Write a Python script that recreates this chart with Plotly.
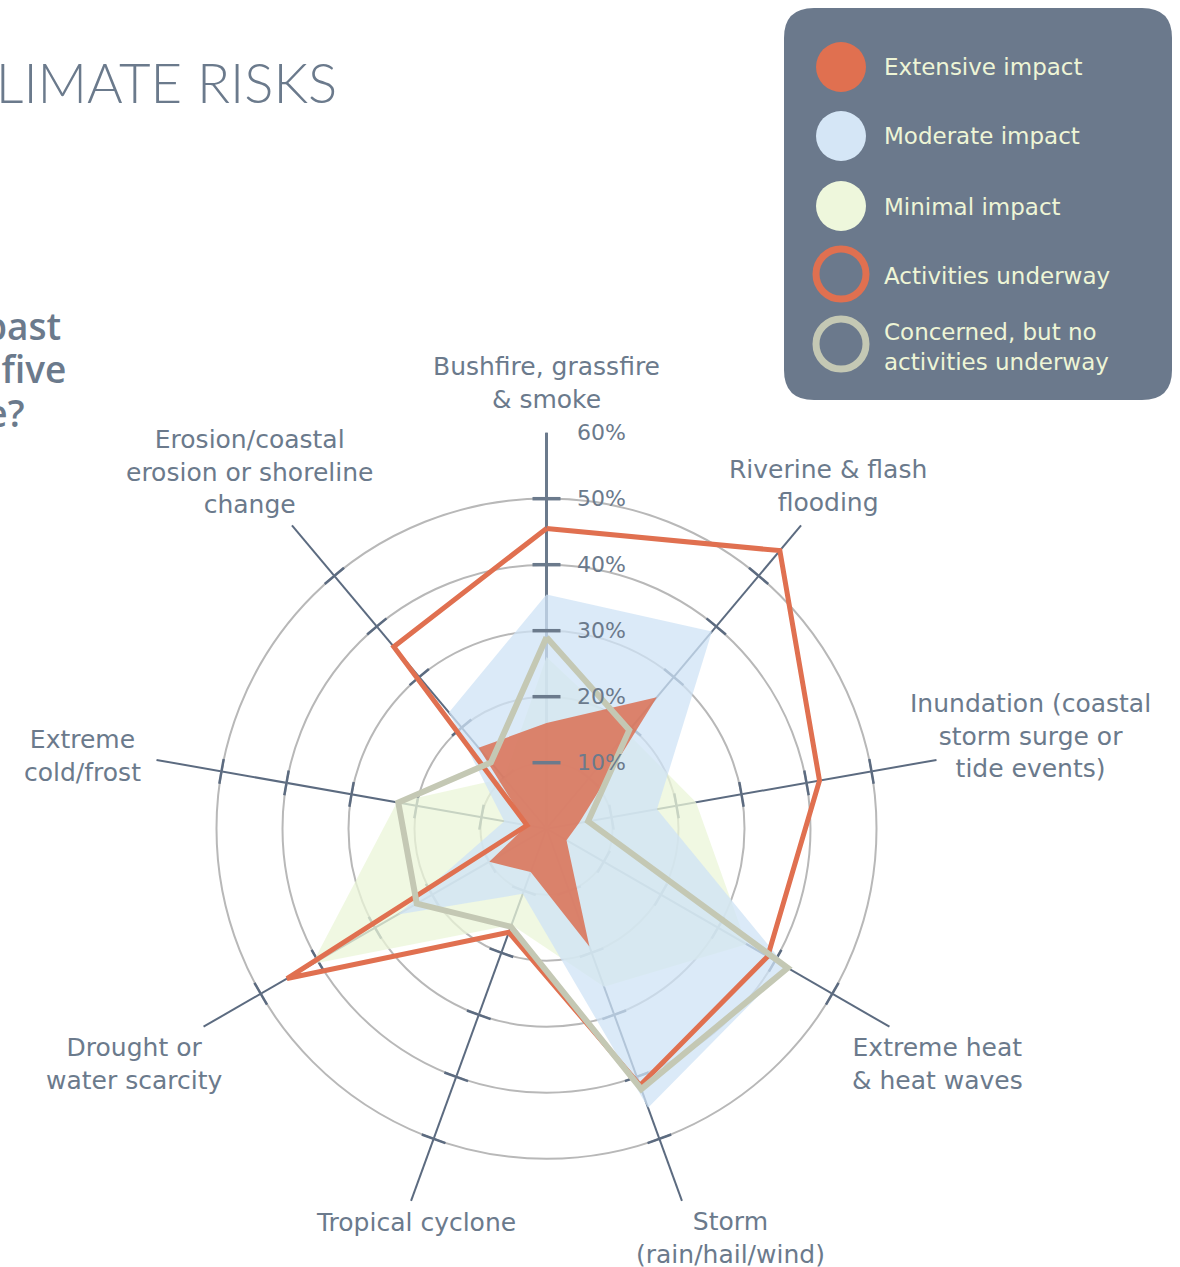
import plotly.graph_objects as go

# ---------------- data ----------------
categories = [
    "Bushfire, grassfire & smoke",
    "Riverine & flash flooding",
    "Inundation (coastal storm surge or tide events)",
    "Extreme heat & heat waves",
    "Storm (rain/hail/wind)",
    "Tropical cyclone",
    "Drought or water scarcity",
    "Extreme cold/frost",
    "Erosion/coastal erosion or shoreline change",
]
category_labels = [
    "Bushfire, grassfire<br>& smoke",
    "Riverine & flash<br>flooding",
    "Inundation (coastal<br>storm surge or<br>tide events)",
    "Extreme heat<br>& heat waves",
    "Storm<br>(rain/hail/wind)",
    "Tropical cyclone",
    "Drought or<br>water scarcity",
    "Extreme<br>cold/frost",
    "Erosion/coastal<br>erosion or shoreline<br>change",
]
extensive_impact = [16, 26, 5, 3.5, 19, 7, 10, 3, 16]
moderate_impact = [35.5, 39, 17, 42, 45, 10.5, 26, 6.5, 23]
minimal_impact = [26, 19, 23, 35, 25.5, 15.5, 41, 23, 10]
activities_underway = [45.5, 55, 42, 38.7, 41.4, 16.7, 45.4, 3, 36]
concerned_no_activities = [29, 19.5, 6.4, 42.2, 42, 15.8, 22.7, 22.8, 13.1]
grid_values = [10, 20, 30, 40, 50]
tick_values = [10, 20, 30, 40, 50, 60]
tick_labels = ["10%", "20%", "30%", "40%", "50%", "60%"]
legend_labels = ["Extensive impact", "Moderate impact", "Minimal impact",
                 "Activities underway", "Concerned, but no<br>activities underway"]

# ---------------- layout constants ----------------
W, H = 1180, 1267
CX, CY = 546.5, 828.7       # polar centre in pixels
R_MAX = 60
R_PX = 396                  # pixel radius of R_MAX
PPU = R_PX / R_MAX

TEXT = "#6b7a8c"
SPOKE = "#5c6b80"
RED = "#e07050"
GREYLINE = "#c4c8b4"
LEG_BG = "#6b798c"
LEG_TXT = "#eef5d6"
FONT = "DejaVu Sans"


def px(x):
    return x / W


def py(y):
    return 1 - y / H


def closed(v):
    return list(v) + [v[0]]


theta_c = closed(categories)
fig = go.Figure()

# spoke ticks (under fills) for all spokes except the radial-axis spoke
tk_theta, tk_r, tk_ang = [], [], []
for i, c in enumerate(categories[1:], start=1):
    for g in grid_values:
        tk_theta.append(c)
        tk_r.append(g)
        tk_ang.append(i * 360 / len(categories))
fig.add_trace(go.Scatterpolar(
    r=tk_r, theta=tk_theta, mode="markers", hoverinfo="skip", showlegend=False,
    marker=dict(symbol="line-ew", size=18, angle=tk_ang,
                line=dict(width=2.5, color=SPOKE)),
))

# fills
fig.add_trace(go.Scatterpolar(
    r=closed(minimal_impact), theta=theta_c, mode="lines", fill="toself",
    fillcolor="rgba(235,246,216,0.75)", line=dict(width=0, color="rgba(0,0,0,0)"),
    name="Minimal impact", showlegend=False))
fig.add_trace(go.Scatterpolar(
    r=closed(moderate_impact), theta=theta_c, mode="lines", fill="toself",
    fillcolor="rgba(207,227,246,0.75)", line=dict(width=0, color="rgba(0,0,0,0)"),
    name="Moderate impact", showlegend=False))
fig.add_trace(go.Scatterpolar(
    r=closed(extensive_impact), theta=theta_c, mode="lines", fill="toself",
    fillcolor="rgba(219,112,84,0.85)", line=dict(width=0, color="rgba(0,0,0,0)"),
    name="Extensive impact", showlegend=False))

# ticks on the radial-axis spoke (above fills)
fig.add_trace(go.Scatterpolar(
    r=grid_values, theta=[categories[0]] * len(grid_values), mode="markers",
    hoverinfo="skip", showlegend=False,
    marker=dict(symbol="line-ew", size=20, line=dict(width=3.5, color=TEXT)),
))

# lines
fig.add_trace(go.Scatterpolar(
    r=closed(activities_underway), theta=theta_c, mode="lines",
    line=dict(width=5, color=RED), name="Activities underway", showlegend=False))
fig.add_trace(go.Scatterpolar(
    r=closed(concerned_no_activities), theta=theta_c, mode="lines",
    line=dict(width=6, color=GREYLINE), name="Concerned, but no activities underway",
    showlegend=False))

fig.update_layout(
    width=W, height=H, margin=dict(l=0, r=0, t=0, b=0),
    paper_bgcolor="white", plot_bgcolor="white", showlegend=False,
    font=dict(family=FONT, color=TEXT),
    polar=dict(
        domain=dict(x=[px(CX - R_PX), px(CX + R_PX)], y=[py(CY + R_PX), py(CY - R_PX)]),
        bgcolor="rgba(0,0,0,0)",
        radialaxis=dict(range=[0, R_MAX], tickvals=grid_values, showticklabels=False,
                        ticks="", showline=True, linecolor=TEXT, linewidth=3,
                        angle=90, showgrid=True,
                        gridcolor="#b8b8b8", gridwidth=1.5, layer="below traces"),
        angularaxis=dict(type="category", categoryorder="array", categoryarray=categories,
                         rotation=90, direction="clockwise",
                         showticklabels=False, ticks="", showline=False,
                         showgrid=True, gridcolor=SPOKE, gridwidth=2.2,
                         layer="below traces"),
    ),
)

annotations = []
# category labels
label_pos = [(546, 383), (828, 486), (1030, 736), (937, 1064), (731, 1238),
             (416, 1222), (134, 1064), (82, 756), (249, 472)]
for lab, (x, y) in zip(category_labels, label_pos):
    annotations.append(dict(x=px(x), y=py(y), xref="paper", yref="paper", text=lab,
                            showarrow=False, xanchor="center", yanchor="middle",
                            align="center", font=dict(size=25, color=TEXT, family=FONT)))
# radial tick labels
for v, t in zip(tick_values, tick_labels):
    annotations.append(dict(x=px(CX + 28), y=py(CY - v * PPU), xref="paper", yref="paper",
                            text=t, showarrow=False, xanchor="left", yanchor="middle",
                            font=dict(size=22, color=TEXT, family=FONT)))
# title and question (cropped at the left edge, as in the source)
annotations.append(dict(x=px(339), y=py(82), xref="paper", yref="paper",
                        text="CLIMATE RISKS", showarrow=False, xanchor="right",
                        yanchor="middle", font=dict(size=54.5, color=TEXT, family="Lato", weight=300)))
for t, x, y in [("the past", 63, 325), ("next five", 68, 369), ("change?", 27, 413)]:
    annotations.append(dict(x=px(x), y=py(y), xref="paper", yref="paper", text=t,
                            showarrow=False, xanchor="right", yanchor="middle",
                            font=dict(size=37, color=TEXT, family="Open Sans", weight=600)))

# legend panel
shapes = []
x0, x1, y0, y1, rr = 784, 1172, 8, 400, 30


def P(x, y):
    return f"{px(x):.5f},{py(y):.5f}"


path = (f"M {P(x0 + rr, y0)} L {P(x1 - rr, y0)} Q {P(x1, y0)} {P(x1, y0 + rr)} "
        f"L {P(x1, y1 - rr)} Q {P(x1, y1)} {P(x1 - rr, y1)} L {P(x0 + rr, y1)} "
        f"Q {P(x0, y1)} {P(x0, y1 - rr)} L {P(x0, y0 + rr)} Q {P(x0, y0)} {P(x0 + rr, y0)} Z")
shapes.append(dict(type="path", xref="paper", yref="paper", path=path,
                   fillcolor=LEG_BG, line=dict(width=0), layer="above"))
leg_y = [67, 136, 206, 274, 344]
leg_fill = [RED, "#d5e6f6", "#eef7dc", LEG_BG, LEG_BG]
leg_line = [None, None, None, RED, GREYLINE]
for ly, fc, lc in zip(leg_y, leg_fill, leg_line):
    r = 25
    shapes.append(dict(type="circle", xref="paper", yref="paper",
                       x0=px(841 - r), x1=px(841 + r), y0=py(ly + r), y1=py(ly - r),
                       fillcolor=fc, layer="above",
                       line=dict(width=7 if lc else 0, color=lc if lc else fc)))
leg_text_y = [67, 136, 207, 276, 347]
for t, ly in zip(legend_labels, leg_text_y):
    annotations.append(dict(x=px(882), y=py(ly), xref="paper", yref="paper", text=t,
                            showarrow=False, xanchor="left", yanchor="middle", align="left",
                            font=dict(size=23, color=LEG_TXT, family=FONT)))

fig.update_layout(annotations=annotations, shapes=shapes)
fig.write_html("out.html")
